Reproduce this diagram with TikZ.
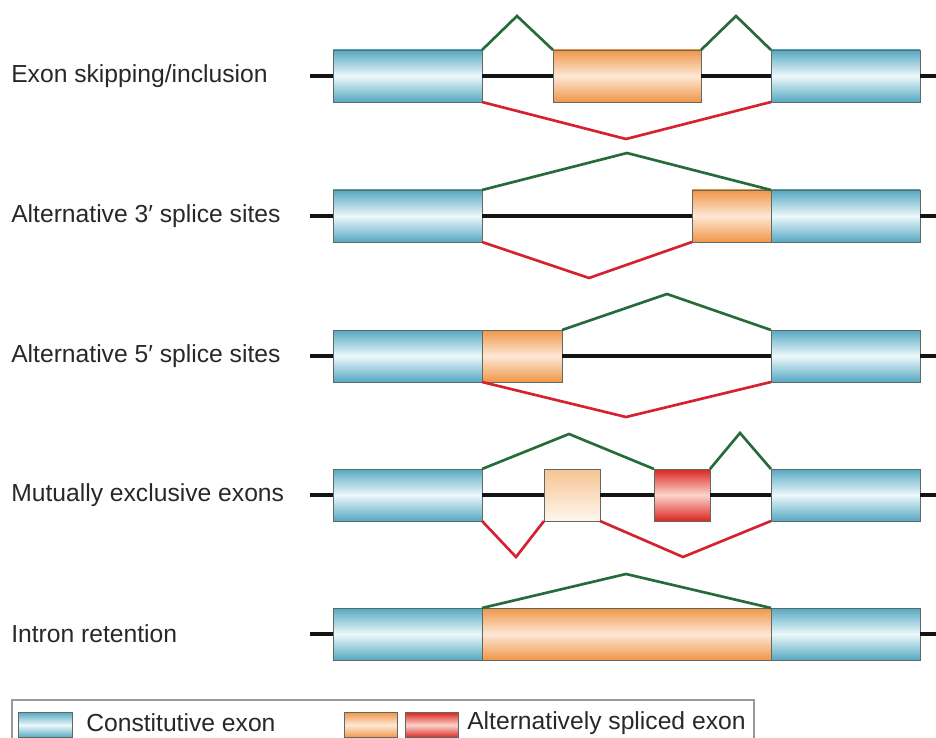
\documentclass[tikz,border=0pt]{standalone}
\usepackage{fontspec}
\setmainfont{Liberation Sans}
\definecolor{blueE}{RGB}{86,168,194}
\definecolor{blueM}{RGB}{236,248,250}
\definecolor{orE}{RGB}{240,150,72}
\definecolor{orM}{RGB}{253,232,214}
\definecolor{lorT}{RGB}{246,196,146}
\definecolor{lorB}{RGB}{255,246,238}
\definecolor{redE}{RGB}{218,38,30}
\definecolor{redM}{RGB}{252,212,204}
\definecolor{edgec}{RGB}{95,105,100}
\definecolor{greenc}{RGB}{38,108,58}
\definecolor{redc}{RGB}{212,34,48}
\definecolor{txt}{RGB}{40,40,40}
\newcommand\ex[6][39pt]{\node[#3, minimum height=#1, minimum width={(#5-#4)*0.75pt}] (#2) at ({(#4+#5)/2},#6) {};}
\begin{document}
\begin{tikzpicture}[x=0.75pt,y=-0.75pt,
  exon/.style={draw=edgec, line width=0.7pt, inner sep=0pt, outer sep=0pt},
  const/.style={exon, top color=blueE, bottom color=blueE, middle color=blueM},
  alt/.style={exon, top color=orE, bottom color=orE, middle color=orM},
  altlight/.style={exon, top color=lorT, bottom color=lorB},
  altred/.style={exon, top color=redE, bottom color=redE, middle color=redM},
  intron/.style={line width=2.9pt, black!92},
  inc/.style={draw=greenc, line width=2pt},
  skp/.style={draw=redc, line width=2pt},
  lbl/.style={anchor=west, font=\fontsize{18.5}{22}\selectfont, text=txt, inner sep=0pt}
]
\useasboundingbox (0,0) rectangle (936,738);
\clip (0,0) rectangle (936,738);

% Row 1: exon skipping
\node[lbl] (l1) at (11,76) {Exon skipping/inclusion};
\coordinate (s1) at (310,76); \coordinate (e1) at (937,76);
\ex{a1}{const}{333}{482}{76}
\ex{o1}{alt}{553}{701}{76}
\ex{b1}{const}{771}{920}{76}
\draw[intron] (s1) -- (a1.west) (a1.east) -- (o1.west) (o1.east) -- (b1.west) (b1.east) -- (e1);
\coordinate (g1a) at (517,16); \coordinate (g1b) at (736,16); \coordinate (r1) at (626,139);
\draw[inc] (a1.north east) -- (g1a) -- (o1.north west);
\draw[inc] (o1.north east) -- (g1b) -- (b1.north west);
\draw[skp] (a1.south east) -- (r1) -- (b1.south west);

% Row 2: alternative 3' splice sites
\node[lbl] (l2) at (11,216) {Alternative 3′ splice sites};
\coordinate (s2) at (310,216); \coordinate (e2) at (937,216);
\ex{a2}{const}{333}{482}{216}
\ex{o2}{alt}{692}{771}{216}
\ex{b2}{const}{771}{920}{216}
\draw[intron] (s2) -- (a2.west) (a2.east) -- (o2.west) (b2.east) -- (e2);
\coordinate (g2) at (627,153); \coordinate (r2) at (589,278);
\draw[inc] (a2.north east) -- (g2) -- (b2.north west);
\draw[skp] (a2.south east) -- (r2) -- (o2.south west);

% Row 3: alternative 5' splice sites
\node[lbl] (l3) at (11,356) {Alternative 5′ splice sites};
\coordinate (s3) at (310,356); \coordinate (e3) at (937,356);
\ex{a3}{const}{333}{482}{356}
\ex{o3}{alt}{482}{562}{356}
\ex{b3}{const}{771}{920}{356}
\draw[intron] (s3) -- (a3.west) (o3.east) -- (b3.west) (b3.east) -- (e3);
\coordinate (g3) at (667,294); \coordinate (r3) at (626,417);
\draw[inc] (o3.north east) -- (g3) -- (b3.north west);
\draw[skp] (a3.south east) -- (r3) -- (b3.south west);

% Row 4: mutually exclusive exons
\node[lbl] (l4) at (11,495) {Mutually exclusive exons};
\coordinate (s4) at (310,495); \coordinate (e4) at (937,495);
\ex{a4}{const}{333}{482}{495}
\ex{p4}{altlight}{544}{600}{495}
\ex{q4}{altred}{654}{710}{495}
\ex{b4}{const}{771}{920}{495}
\draw[intron] (s4) -- (a4.west) (a4.east) -- (p4.west) (p4.east) -- (q4.west) (q4.east) -- (b4.west) (b4.east) -- (e4);
\coordinate (g4a) at (569,434); \coordinate (g4b) at (740,433);
\coordinate (r4a) at (516,557); \coordinate (r4b) at (683,557);
\draw[inc] (a4.north east) -- (g4a) -- (q4.north west);
\draw[inc] (q4.north east) -- (g4b) -- (b4.north west);
\draw[skp] (a4.south east) -- (r4a) -- (p4.south west);
\draw[skp] (p4.south east) -- (r4b) -- (b4.south west);

% Row 5: intron retention
\node[lbl] (l5) at (11,634) {Intron retention};
\coordinate (s5) at (310,634); \coordinate (e5) at (937,634);
\ex{a5}{const}{333}{482}{634}
\ex{o5}{alt}{482}{771}{634}
\ex{b5}{const}{771}{920}{634}
\draw[intron] (s5) -- (a5.west) (b5.east) -- (e5);
\coordinate (g5) at (626,574);
\draw[inc] (o5.north west) -- (g5) -- (o5.north east);

% Legend
\node[draw=black!40, line width=0.8pt, inner sep=0pt, minimum width={742*0.75pt}, minimum height={70*0.75pt}] (leg) at (383,735) {};
\ex[19pt]{k1}{const}{18}{72}{725}
\node[lbl] (t1) at (86,723) {Constitutive exon};
\ex[19pt]{k2}{alt}{344}{397}{725}
\ex[19pt]{k3}{altred}{405}{458}{725}
\node[lbl] (t2) at (467,723) {Alternatively spliced exon};
\end{tikzpicture}
\end{document}
